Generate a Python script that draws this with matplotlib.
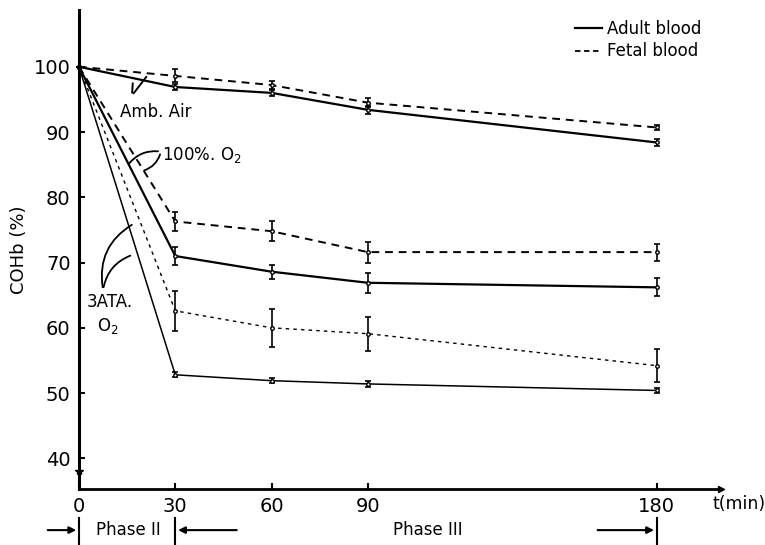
import numpy as np
import matplotlib
matplotlib.use("Agg")
import matplotlib.pyplot as plt
from matplotlib.lines import Line2D

plt.rcParams['font.family'] = ['DejaVu Sans']

# time points (min)
t = [0, 30, 60, 90, 180]

# COHb (%), with half error bars
air_adult = [100, 96.9, 96.0, 93.4, 88.4]
air_adult_err = [0, 0.5, 0.5, 0.6, 0.5]
air_fetal = [100, 98.6, 97.2, 94.5, 90.7]
air_fetal_err = [0, 1.0, 0.6, 0.7, 0.4]

o2_adult = [100, 71.0, 68.6, 66.9, 66.2]
o2_adult_err = [0, 1.4, 1.1, 1.5, 1.4]
o2_fetal = [100, 76.3, 74.8, 71.6, 71.6]
o2_fetal_err = [0, 1.4, 1.5, 1.6, 1.3]

ata_adult = [100, 52.8, 51.9, 51.4, 50.4]
ata_adult_err = [0, 0.4, 0.4, 0.4, 0.4]
ata_fetal = [100, 62.6, 60.0, 59.1, 54.2]
ata_fetal_err = [0, 3.1, 2.9, 2.6, 2.5]

yticks = [40, 50, 60, 70, 80, 90, 100]
xticks = [0, 30, 60, 90, 180]


def draw(ax, y, err, ls, lw):
    ax.errorbar(t, y, yerr=err, color='black', ls=ls, lw=lw, marker='o',
                ms=2.5, mfc='white', mec='black', capsize=2.5, elinewidth=1.2,
                capthick=1.2, clip_on=False)


def main():
    fig = plt.figure(figsize=(7.65, 5.45), dpi=100)
    ax = fig.add_axes([79/765, 1-489/545, (721-79)/765, (489-10)/545])

    draw(ax, air_adult, air_adult_err, '-', 1.6)
    draw(ax, air_fetal, air_fetal_err, (0, (4, 3)), 1.4)
    draw(ax, o2_adult, o2_adult_err, '-', 1.6)
    draw(ax, o2_fetal, o2_fetal_err, (0, (4, 3)), 1.4)
    draw(ax, ata_adult, ata_adult_err, '-', 1.1)
    draw(ax, ata_fetal, ata_fetal_err, (0, (2.5, 3)), 1.0)
    ax.plot([0], [38], marker='*', ms=6, color='black', clip_on=False)

    ax.set_xlim(0, 200)
    ax.set_ylim(35.3, 108.7)
    ax.set_xticks(xticks)
    ax.set_yticks(yticks)
    ax.tick_params(direction='in', length=4, width=1.5, labelsize=14, pad=6)
    for s in ['top', 'right']:
        ax.spines[s].set_visible(False)
    ax.spines['left'].set_linewidth(2.2)
    ax.spines['bottom'].set_linewidth(2.0)
    ax.plot(1, 0, '>', color='black', ms=5, transform=ax.transAxes, clip_on=False)
    ax.text(0.986, -0.013, 't(min)', transform=ax.transAxes, fontsize=12.5,
            va='top', ha='left')
    ax.set_ylabel('COHb (%)', fontsize=13, labelpad=4)

    # legend
    handles = [Line2D([], [], color='black', lw=1.6, ls='-'),
               Line2D([], [], color='black', lw=1.3, ls=(0, (3, 2)))]
    ax.legend(handles, ['Adult blood', 'Fetal blood'], frameon=False, fontsize=12,
              loc='upper left', bbox_to_anchor=(0.749, 1.01), handlelength=1.6,
              handletextpad=0.35, labelspacing=0.25)

    # condition labels with curved pointers
    ax.text(12.9, 93.1, 'Amb. Air', fontsize=12, va='center')
    ax.annotate('', xy=(16.8, 97.9), xytext=(16.5, 95.6),
                arrowprops=dict(arrowstyle='-', lw=1.4, color='black'))
    ax.annotate('', xy=(21.5, 98.8), xytext=(16.5, 95.6),
                arrowprops=dict(arrowstyle='-', lw=1.4, color='black'))
    ax.text(26, 86.5, '100%. O$_2$', fontsize=12, va='center')
    ax.annotate('', xy=(15.0, 84.8), xytext=(25.5, 87.0),
                arrowprops=dict(arrowstyle='-', lw=1.3, color='black',
                                connectionstyle='arc3,rad=0.3'))
    ax.annotate('', xy=(19.5, 84.0), xytext=(25.5, 87.0),
                arrowprops=dict(arrowstyle='-', lw=1.3, color='black',
                                connectionstyle='arc3,rad=-0.3'))
    ax.text(2.5, 64.0, '3ATA.', fontsize=12, va='center')
    ax.text(5.5, 60.3, 'O$_2$', fontsize=12, va='center')
    ax.annotate('', xy=(17.2, 76.0), xytext=(7.5, 65.8),
                arrowprops=dict(arrowstyle='-', lw=1.3, color='black',
                                connectionstyle='arc3,rad=-0.35'))
    ax.annotate('', xy=(16.8, 71.2), xytext=(7.5, 65.8),
                arrowprops=dict(arrowstyle='-', lw=1.3, color='black',
                                connectionstyle='arc3,rad=-0.3'))

    # phase markers below the axis
    yp = 29.0
    kw = dict(annotation_clip=False,
              arrowprops=dict(arrowstyle='-|>', lw=1.5, color='black', mutation_scale=10))
    ax.annotate('', xy=(0, yp), xytext=(-10.6, yp), **kw)
    ax.annotate('', xy=(30, yp), xytext=(50, yp), **kw)
    ax.annotate('', xy=(180, yp), xytext=(160.7, yp), **kw)
    for x0 in [0, 30, 180]:
        ax.plot([x0, x0], [26.5, 30.8], color='black', lw=1.5, clip_on=False)
    ax.text(15.5, yp, 'Phase II', fontsize=12, ha='center', va='center')
    ax.text(108.7, yp, 'Phase III', fontsize=12, ha='center', va='center')

    fig.savefig('out.png', dpi=100)


if __name__ == "__main__":
    main()
